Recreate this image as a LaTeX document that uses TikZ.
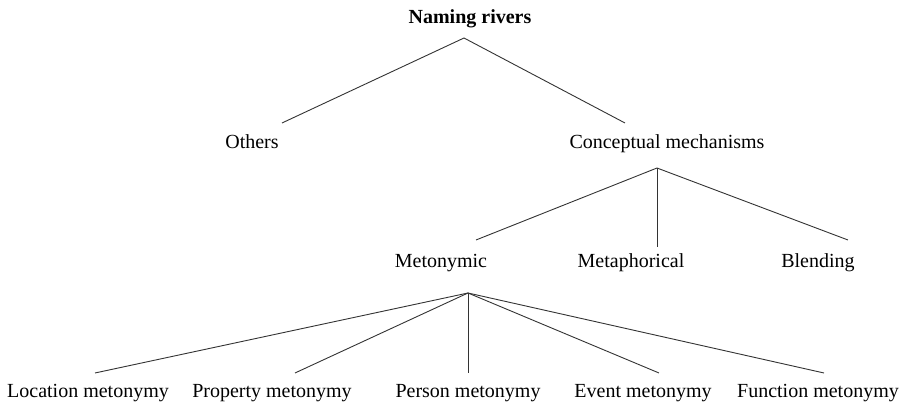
\documentclass[tikz,border=0pt]{standalone}
\usepackage{fontspec}
\setmainfont{Liberation Serif}
\begin{document}
\begin{tikzpicture}[x=0.5pt,y=-0.5pt,
  lbl/.style={inner sep=0pt,font=\fontsize{10}{12}\selectfont,text height=1.6ex,text depth=0.5ex},
  edge/.style={line width=0.45pt,draw=black!80}]
\useasboundingbox (0,0) rectangle (902,405);
% nodes
\node[lbl,font=\fontsize{10}{12}\selectfont\bfseries] (nr) at (470,18) {Naming rivers};
\node[lbl] (oth) at (252,143) {Others};
\node[lbl] (cm) at (667,143) {Conceptual mechanisms};
\node[lbl] (meto) at (441,262) {Metonymic};
\node[lbl] (meta) at (631,262) {Metaphorical};
\node[lbl] (blend) at (818,262) {Blending};
\node[lbl] (loc) at (88,392) {Location metonymy};
\node[lbl] (prop) at (272,392) {Property metonymy};
\node[lbl] (pers) at (468,392) {Person metonymy};
\node[lbl] (evt) at (643,392) {Event metonymy};
\node[lbl] (func) at (818,392) {Function metonymy};
% connector end points
\coordinate (nrA) at (464,38);
\coordinate (othT) at (282,123);
\coordinate (cmT) at (625,123);
\coordinate (cmA) at (657,168);
\coordinate (metoT) at (476,240);
\coordinate (metaT) at (657,247);
\coordinate (blendT) at (848,240);
\coordinate (metoA) at (468,293);
\coordinate (locT) at (95,373);
\coordinate (propT) at (295,373);
\coordinate (persT) at (468,373);
\coordinate (evtT) at (659,373);
\coordinate (funcT) at (824,373);
% connectors
\draw[edge] (nrA) -- (othT);
\draw[edge] (nrA) -- (cmT);
\draw[edge] (cmA) -- (metoT);
\draw[edge] (cmA) -- (metaT);
\draw[edge] (cmA) -- (blendT);
\draw[edge] (metoA) -- (locT);
\draw[edge] (metoA) -- (propT);
\draw[edge] (metoA) -- (persT);
\draw[edge] (metoA) -- (evtT);
\draw[edge] (metoA) -- (funcT);
\end{tikzpicture}
\end{document}
